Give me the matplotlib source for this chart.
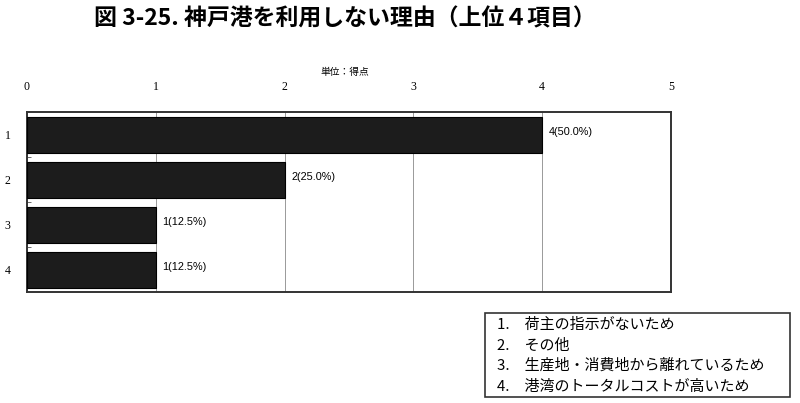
import matplotlib
matplotlib.use("Agg")
import matplotlib.pyplot as plt
from matplotlib.patches import Rectangle

plt.rcParams['font.family'] = ['Noto Sans CJK JP', 'DejaVu Sans']

# data
categories = ["1", "2", "3", "4"]
scores = [4, 2, 1, 1]
shares = [50.0, 25.0, 12.5, 12.5]
x_ticks = [0, 1, 2, 3, 4, 5]
legend_lines = [
    "1.\u3000荷主の指示がないため",
    "2.\u3000その他",
    "3.\u3000生産地・消費地から離れているため",
    "4.\u3000港湾のトータルコストが高いため",
]

fig = plt.figure(figsize=(8.0, 4.03), dpi=100)
ax = fig.add_axes([27 / 800, 111 / 403, 644 / 800, 180 / 403])

ypos = list(range(len(categories)))
ax.barh(ypos, scores, height=0.8, color="#1c1c1c", edgecolor="black", linewidth=0.8, zorder=3)
for y, s, p in zip(ypos, scores, shares):
    ax.text(s + 0.05, y - 0.05, f"{s}({p:.1f}%)", va="center", ha="left",
            fontsize=7.8, family="Liberation Sans", zorder=4)

ax.set_xlim(0, 5)
ax.set_ylim(3.5, -0.5)
ax.set_xticks(x_ticks)
ax.set_xticklabels([str(t) for t in x_ticks], family="Liberation Serif", fontsize=8.5)
ax.xaxis.tick_top()
ax.tick_params(axis="x", length=0, pad=14)
ax.set_yticks(ypos)
ax.set_yticklabels(categories, family="Liberation Serif", fontsize=8.5)
ax.tick_params(axis="y", length=0, pad=12)
ax.set_yticks([0.5, 1.5, 2.5], minor=True)
ax.tick_params(axis="y", which="minor", direction="in", length=3, width=0.6, color="#555555")
ax.grid(axis="x", color="#999999", linewidth=0.7, zorder=0)
for sp in ax.spines.values():
    sp.set_linewidth(1.4)
    sp.set_color("#333333")

fig.text(345 / 800, 1 - 19 / 403, "図 3-25. 神戸港を利用しない理由（上位４項目）",
         ha="center", va="center", fontsize=16.5, fontweight="bold")
fig.text(345 / 800, 1 - 72 / 403, "単位：得点", ha="center", va="center", fontsize=7)

# legend box
fig.patches.append(Rectangle((485 / 800, 1 - 397 / 403), 305 / 800, 84 / 403,
                             transform=fig.transFigure, fill=False,
                             edgecolor="#333333", linewidth=1.2))
for i, line in enumerate(legend_lines):
    fig.text(497 / 800, 1 - (325 + 20.5 * i) / 403, line, ha="left", va="center", fontsize=10.8)

fig.savefig("out.png", dpi=100)
